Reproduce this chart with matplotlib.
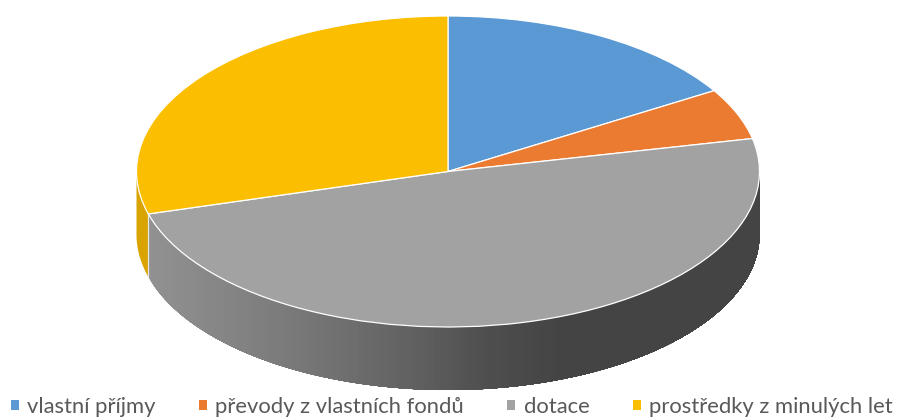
"""3D style pie of income sources, top face from ax.pie, side wall from the same angles."""
import matplotlib
matplotlib.use("Agg")
import matplotlib.pyplot as plt
import numpy as np
from matplotlib.patches import Polygon

labels = ["vlastní příjmy", "převody z vlastních fondů", "dotace", "prostředky z minulých let"]
values = [16.3, 5.3, 49.0, 29.4]
colors = ["#5A99D3", "#EB7B30", "#A2A2A2", "#FBBE00"]
wall_colors = ["#4F86B8", "#CC6B2A", None, "#D9A400"]

W, H = 898, 417
CX, CY, RX, RY, DEPTH = 448, 171.5, 311.5, 155.5, 63

plt.rcParams["font.family"] = ["Lato", "DejaVu Sans"]

fig = plt.figure(figsize=(W / 100, H / 100), dpi=100)
ax = fig.add_axes([0, 0, 1, 1])

wedges, _ = ax.pie(values, colors=colors, startangle=90, counterclock=False, radius=1,
                   wedgeprops={"edgecolor": "white", "linewidth": 0.9, "zorder": 5})
ax.set_aspect("auto")
depth = DEPTH / RY

# side wall: only the part of each slice on the front half of the ellipse shows
fractions = np.cumsum([0] + values) / sum(values)
angles = 90 - fractions * 360
for i in range(len(values)):
    hi, lo = angles[i], angles[i + 1]
    for shift in (0, 360, -360):
        a0 = max(lo + shift, 180)
        a1 = min(hi + shift, 360)
        if a1 <= a0:
            continue
        if wall_colors[i] is None:
            # grey slice is light to dark, strips painted left to right so no seams show
            starts = np.linspace(a0, a1, 160, endpoint=False)
            for start in starts:
                t = np.radians(np.linspace(start, a1, 120))
                x, y = np.cos(t), np.sin(t)
                pts = np.r_[np.c_[x, y], np.c_[x[::-1], y[::-1] - depth]]
                px = CX + RX * np.cos(np.radians(start))
                g = np.interp(px, [148, 300, 420, 480, 560], [0.57, 0.47, 0.37, 0.31, 0.265])
                ax.add_patch(Polygon(pts, closed=True, facecolor=(g, g, g), edgecolor="none", zorder=2))
        else:
            t = np.radians(np.linspace(a0, a1, 120))
            x, y = np.cos(t), np.sin(t)
            pts = np.r_[np.c_[x, y], np.c_[x[::-1], y[::-1] - depth]]
            ax.add_patch(Polygon(pts, closed=True, facecolor=wall_colors[i], edgecolor="none", zorder=2))
        # light seam where the wall meets the next slice
        if a0 > 180:
            s = np.radians(a0)
            ax.plot([np.cos(s)] * 2, [np.sin(s), np.sin(s) - depth], color="#E6E6E6", lw=0.9, zorder=3)

ax.set_xlim((0 - CX) / RX, (W - CX) / RX)
ax.set_ylim((CY - H) / RY, CY / RY)
ax.set_axis_off()

leg = fig.legend(wedges, labels, ncol=4, loc="lower left", bbox_to_anchor=(11 / W, 0.0),
                 borderaxespad=0, borderpad=0, frameon=False, fontsize=15.85,
                 handlelength=0.36, handleheight=0.36, handletextpad=0.38, columnspacing=1.97,
                 labelcolor="#595959")
for h in leg.legend_handles:
    h.set_edgecolor("none")

fig.savefig("out.png", dpi=100)
